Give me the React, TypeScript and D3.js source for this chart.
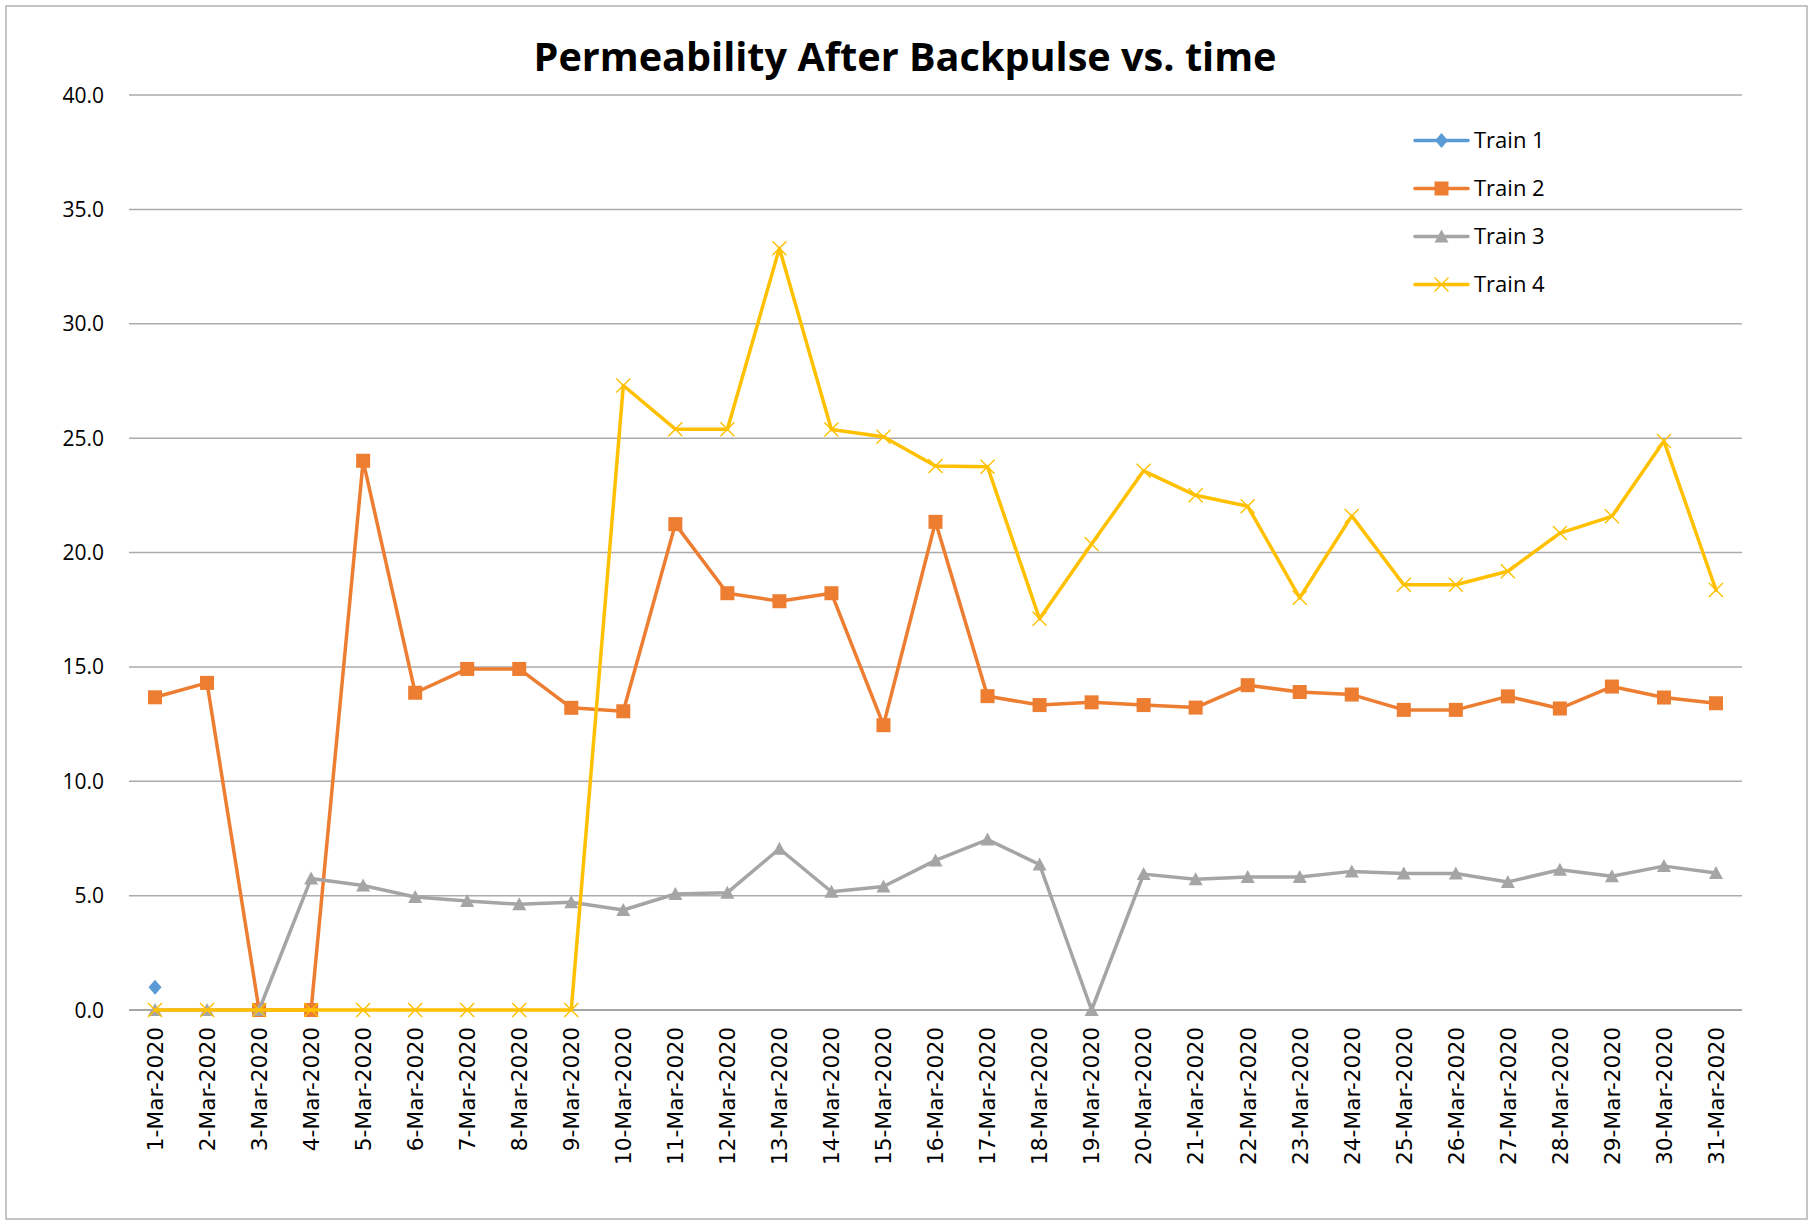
import * as d3 from "d3";

const W = 1813;
const H = 1225;
const ML = 129;
const MR = 71;
const MT = 95;
const YZERO = 1010;

const TITLE = "Permeability After Backpulse vs. time";

const DATES = [
  "1-Mar-2020", "2-Mar-2020", "3-Mar-2020", "4-Mar-2020", "5-Mar-2020",
  "6-Mar-2020", "7-Mar-2020", "8-Mar-2020", "9-Mar-2020", "10-Mar-2020",
  "11-Mar-2020", "12-Mar-2020", "13-Mar-2020", "14-Mar-2020", "15-Mar-2020",
  "16-Mar-2020", "17-Mar-2020", "18-Mar-2020", "19-Mar-2020", "20-Mar-2020",
  "21-Mar-2020", "22-Mar-2020", "23-Mar-2020", "24-Mar-2020", "25-Mar-2020",
  "26-Mar-2020", "27-Mar-2020", "28-Mar-2020", "29-Mar-2020", "30-Mar-2020",
  "31-Mar-2020",
];

const Y_TICKS = [0, 5, 10, 15, 20, 25, 30, 35, 40];

// Train 1 only has a reading on the first day
const TRAIN1: (number | null)[] = [1.0];

const TRAIN2 = [
  13.67, 14.3, 0, 0, 24.01, 13.87, 14.91, 14.91, 13.21, 13.06,
  21.24, 18.22, 17.87, 18.22, 12.45, 21.34, 13.72, 13.33, 13.45, 13.33,
  13.22, 14.2, 13.9, 13.79, 13.12, 13.12, 13.71, 13.18, 14.14, 13.66,
  13.41,
];

const TRAIN3 = [
  0, 0, 0, 5.75, 5.44, 4.94, 4.77, 4.62, 4.71, 4.37,
  5.07, 5.13, 7.05, 5.17, 5.4, 6.54, 7.45, 6.36, 0, 5.94,
  5.72, 5.81, 5.81, 6.06, 5.97, 5.97, 5.6, 6.13, 5.85, 6.29,
  5.99,
];

const TRAIN4 = [
  0, 0, 0, 0, 0, 0, 0, 0, 0, 27.3,
  25.39, 25.39, 33.3, 25.38, 25.06, 23.78, 23.75, 17.1, 20.37, 23.57,
  22.5, 22.02, 18.02, 21.6, 18.59, 18.59, 19.18, 20.85, 21.58, 24.87,
  18.36,
];

type Marker = "diamond" | "square" | "triangle" | "x";

const SERIES: { name: string; values: (number | null)[]; color: string; marker: Marker }[] = [
  { name: "Train 1", values: TRAIN1, color: "#5B9BD5", marker: "diamond" },
  { name: "Train 2", values: TRAIN2, color: "#ED7D31", marker: "square" },
  { name: "Train 3", values: TRAIN3, color: "#A5A5A5", marker: "triangle" },
  { name: "Train 4", values: TRAIN4, color: "#FFC000", marker: "x" },
];

function MarkerShape({ kind, x, y, color }: { kind: Marker; x: number; y: number; color: string }) {
  if (kind === "square") {
    return <rect x={x - 7} y={y - 7} width={14} height={14} fill={color} />;
  }
  if (kind === "diamond") {
    return <path d={`M${x},${y - 7.5}L${x + 6.5},${y}L${x},${y + 7.5}L${x - 6.5},${y}Z`} fill={color} />;
  }
  if (kind === "triangle") {
    return <path d={`M${x},${y - 7}L${x + 7},${y + 6}L${x - 7},${y + 6}Z`} fill={color} />;
  }
  return (
    <path
      d={`M${x - 7},${y - 7}L${x + 7},${y + 7}M${x - 7},${y + 7}L${x + 7},${y - 7}`}
      stroke={color}
      strokeWidth={1.4}
      fill="none"
    />
  );
}

export default function App() {
  const x = d3.scalePoint<string>().domain(DATES).range([ML, W - MR]).padding(0.5);
  const y = d3.scaleLinear().domain([0, 40]).range([YZERO, MT]);

  const line = d3
    .line<number | null>()
    .defined((d) => d != null)
    .x((_, i) => x(DATES[i]) ?? 0)
    .y((d) => y(d as number));

  const legendX = 1415;
  const legendY = 140.5;
  const legendStep = 48;

  return (
    <div style={{ position: "absolute", left: 0, top: 0 }}>
      <svg width={W} height={H} viewBox={`0 0 ${W} ${H}`} style={{ display: "block", background: "#fff" }}>
        <rect x={6} y={6} width={W - 12} height={H - 12} fill="#fff" stroke="#A6A6A6" strokeWidth={1.3} />

        <text
          x={905}
          y={71}
          textAnchor="middle"
          fontFamily="'Open Sans', sans-serif"
          fontWeight="bold"
          fontSize={40}
          textLength={743}
          lengthAdjust="spacingAndGlyphs"
          fill="#000"
        >
          {TITLE}
        </text>

        <g>
          {Y_TICKS.map((t) => (
            <line
              key={t}
              x1={ML}
              x2={W - MR}
              y1={y(t)}
              y2={y(t)}
              stroke={t === 0 ? "#898989" : "#ABABAB"}
              strokeWidth={1.5}
            />
          ))}
        </g>

        <g fontFamily="'Open Sans', sans-serif" fontSize={21} fill="#000" textAnchor="end">
          {Y_TICKS.map((t) => (
            <text key={t} x={104} y={y(t)} dy="0.36em">
              {d3.format(".1f")(t)}
            </text>
          ))}
        </g>

        <g fontFamily="'DejaVu Sans', sans-serif" fontSize={21.7} fill="#000">
          {DATES.map((d) => (
            <text
              key={d}
              transform={`translate(${x(d)},${1027}) rotate(-90)`}
              textAnchor="end"
              dy="0.36em"
            >
              {d}
            </text>
          ))}
        </g>

        {SERIES.map((s) => (
          <g key={s.name}>
            <path
              d={line(s.values) ?? ""}
              fill="none"
              stroke={s.color}
              strokeWidth={3.5}
              strokeLinejoin="round"
              strokeLinecap="round"
            />
            {s.values.map((v, i) =>
              v == null ? null : (
                <MarkerShape key={i} kind={s.marker} x={x(DATES[i]) ?? 0} y={y(v)} color={s.color} />
              ),
            )}
          </g>
        ))}

        <g fontFamily="'Open Sans', sans-serif" fontSize={22} fill="#000">
          {SERIES.map((s, i) => {
            const ly = legendY + i * legendStep;
            return (
              <g key={s.name}>
                <line x1={legendX} x2={legendX + 53} y1={ly} y2={ly} stroke={s.color} strokeWidth={3.5} strokeLinecap="round" />
                <MarkerShape kind={s.marker} x={legendX + 26.5} y={ly} color={s.color} />
                <text x={legendX + 59} y={ly} dy="0.36em">
                  {s.name}
                </text>
              </g>
            );
          })}
        </g>
      </svg>
    </div>
  );
}
